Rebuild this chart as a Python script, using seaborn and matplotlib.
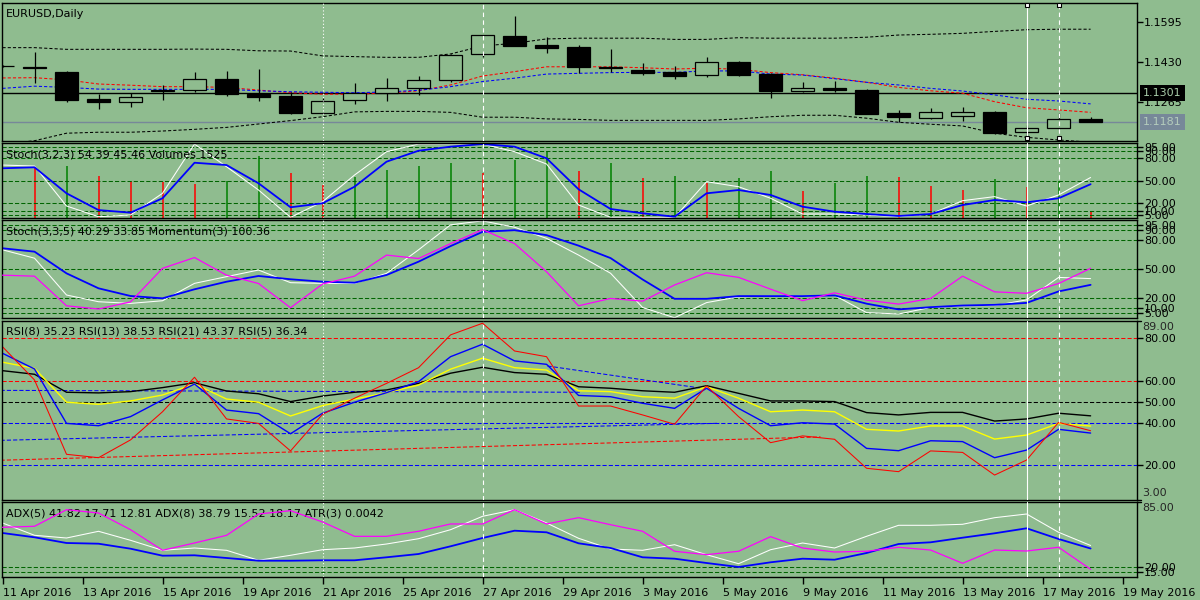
import numpy as np
import matplotlib
matplotlib.use("Agg")
import matplotlib.pyplot as plt
import matplotlib.transforms as mtrans
import seaborn as sns

# ---- values (35 daily bars) ----
date_labels = ["11 Apr 2016", "13 Apr 2016", "15 Apr 2016", "19 Apr 2016", "21 Apr 2016",
               "25 Apr 2016", "27 Apr 2016", "29 Apr 2016", "3 May 2016", "5 May 2016",
               "9 May 2016", "11 May 2016", "13 May 2016", "17 May 2016", "19 May 2016"]

opens = [1.1413, 1.1408, 1.1389, 1.1276, 1.1265, 1.1310, 1.1313, 1.1359, 1.1297, 1.1287,
         1.1217, 1.1271, 1.1300, 1.1323, 1.1353, 1.1460, 1.1536, 1.1499, 1.1491, 1.1409,
         1.1396, 1.1388, 1.1374, 1.1429, 1.1381, 1.1310, 1.1322, 1.1313, 1.1217, 1.1199,
         1.1208, 1.1223, 1.1139, 1.1155, 1.1194]
closes = [1.1414, 1.1405, 1.1273, 1.1265, 1.1283, 1.1313, 1.1357, 1.1297, 1.1286, 1.1220,
          1.1266, 1.1300, 1.1320, 1.1353, 1.1456, 1.1539, 1.1496, 1.1488, 1.1408, 1.1406,
          1.1385, 1.1372, 1.1428, 1.1376, 1.1310, 1.1322, 1.1313, 1.1216, 1.1203, 1.1221,
          1.1223, 1.1137, 1.1157, 1.1194, 1.1181]
highs = [1.1416, 1.1471, 1.1393, 1.1296, 1.1302, 1.1334, 1.1389, 1.1392, 1.1400, 1.1304,
         1.1282, 1.1342, 1.1363, 1.1371, 1.1462, 1.1540, 1.1619, 1.1531, 1.1499, 1.1481,
         1.1425, 1.1412, 1.1449, 1.1433, 1.1383, 1.1346, 1.1350, 1.1316, 1.1231, 1.1239,
         1.1243, 1.1227, 1.1168, 1.1218, 1.1202]
lows = [1.1410, 1.1343, 1.1265, 1.1234, 1.1244, 1.1273, 1.1304, 1.1289, 1.1269, 1.1216,
        1.1215, 1.1257, 1.1269, 1.1293, 1.1346, 1.1448, 1.1495, 1.1467, 1.1382, 1.1389,
        1.1376, 1.1360, 1.1368, 1.1371, 1.1282, 1.1305, 1.1305, 1.1215, 1.1180, 1.1195,
        1.1187, 1.1133, 1.1121, 1.1154, 1.1180]

bb_upper = [1.1488, 1.1488, 1.1481, 1.1481, 1.1481, 1.1481, 1.1482, 1.1481, 1.1475, 1.1474,
            1.1454, 1.1451, 1.1448, 1.1448, 1.1462, 1.1495, 1.1506, 1.1524, 1.1527, 1.1527,
            1.1527, 1.1522, 1.1522, 1.1529, 1.1527, 1.1527, 1.1527, 1.1531, 1.1540, 1.1543,
            1.1547, 1.1555, 1.1562, 1.1564, 1.1564]
bb_lower = [1.1090, 1.1104, 1.1135, 1.1139, 1.1139, 1.1144, 1.1151, 1.1159, 1.1173, 1.1187,
            1.1203, 1.1223, 1.1225, 1.1225, 1.1221, 1.1201, 1.1201, 1.1194, 1.1192, 1.1188,
            1.1188, 1.1188, 1.1188, 1.1194, 1.1203, 1.1209, 1.1209, 1.1197, 1.1180, 1.1172,
            1.1165, 1.1135, 1.1118, 1.1107, 1.1098]
ma_red = [1.1363, 1.1364, 1.1355, 1.1338, 1.1333, 1.1327, 1.1327, 1.1324, 1.1313, 1.1302,
          1.1296, 1.1296, 1.1300, 1.1310, 1.1334, 1.1371, 1.1389, 1.1409, 1.1409, 1.1409,
          1.1405, 1.1400, 1.1403, 1.1399, 1.1385, 1.1376, 1.1362, 1.1345, 1.1324, 1.1310,
          1.1300, 1.1265, 1.1240, 1.1231, 1.1221]
ma_blue = [1.1320, 1.1329, 1.1324, 1.1317, 1.1316, 1.1316, 1.1316, 1.1316, 1.1310, 1.1306,
           1.1304, 1.1302, 1.1305, 1.1312, 1.1327, 1.1348, 1.1362, 1.1379, 1.1382, 1.1385,
           1.1386, 1.1386, 1.1392, 1.1392, 1.1379, 1.1375, 1.1360, 1.1345, 1.1334, 1.1320,
           1.1309, 1.1293, 1.1275, 1.1268, 1.1256]
hline_price = 1.1301
bid_price = 1.1181
price_ticks = [1.1595, 1.1430, 1.1265]

stoch1_main = [71, 69.7, 16.4, 2.1, 4.4, 33.3, 99, 68.8, 37.7, 1.3, 22.1, 57.7, 88.8, 99, 99,
               99, 88.8, 72.4, 17.7, 1.3, 1.0, 1.0, 48.8, 42.1, 26.7, 5.7, 5.7, 4.4, 2.1, 5.7,
               23.5, 28.9, 16.4, 31.1, 54.39]
stoch1_signal = [66.7, 68, 33.3, 11, 7.5, 26.7, 74.1, 71, 46.7, 14.7, 20, 42.1, 75.5, 90.1,
                 95.5, 99, 95.5, 80, 38.7, 12.4, 6.7, 2.1, 33.3, 37.7, 31.1, 15.5, 8.8, 5.7,
                 3.1, 5.7, 17.7, 24.4, 21.3, 26.7, 45.46]
volumes = [np.nan, 11500, 11790, 9500, 8300, 8140, 7680, 8300, 14070, 10260, 7460, 9210,
           10880, 11790, 12540, 10120, 13160, 15280, 10720, 12400, 9120, 9510, 7980, 9120,
           10650, 6090, 7980, 9510, 9280, 7230, 6320, 8820, 7000, 8370, 1525]

stoch2_main = [69.9, 61.3, 23.4, 16.5, 14.8, 17.5, 35.4, 42.3, 49.1, 36.1, 35.4, 35.4, 45.7,
               69.9, 95.6, 99.7, 93.1, 81.7, 64.5, 45.8, 10.6, 0.0, 15.6, 21.5, 22.3, 22.3,
               23, 5.3, 3.9, 10.6, 12.3, 12.6, 18.4, 41.5, 40.29]
stoch2_signal = [71.5, 68, 45.7, 30.3, 22.4, 20, 29.3, 37.1, 43, 39.6, 37.1, 36.1, 44, 57.7,
                 73.7, 88.4, 90.1, 85, 74.2, 61.4, 39.4, 19.5, 19.5, 22.3, 22.3, 22.3, 23,
                 14.5, 8.6, 10.9, 12.6, 13.3, 15.3, 27.1, 33.85]
momentum = [100.08, 100.04, 98.83, 98.70, 98.99, 100.36, 100.80, 100.08, 99.74, 98.75,
            99.72, 100.04, 100.90, 100.76, 101.37, 101.94, 101.37, 100.22, 98.83, 99.13,
            99.02, 99.68, 100.18, 99.99, 99.51, 99.04, 99.36, 99.06, 98.90, 99.13, 100.04,
            99.40, 99.34, 99.74, 100.36]
stoch_levels = [95, 90, 80, 50, 20, 10, 5]

rsi8 = [72.9, 65.5, 39.8, 38.7, 43, 50.9, 58.4, 46.1, 44.4, 34.9, 44.6, 49.8, 54.3, 59.5,
        71.3, 77.2, 69.3, 67.7, 53, 52.4, 49.3, 46.9, 56.4, 46.9, 38.7, 40.1, 39.5, 28, 26.9,
        31.6, 31.2, 23.6, 27.2, 37, 35.23]
rsi13 = [68.7, 65.8, 49.8, 48.8, 50.4, 53.2, 58.4, 51.3, 49.8, 43.3, 48.2, 51.3, 54.3, 57.9,
         65.4, 70.6, 66.1, 65, 55.2, 54.8, 52.4, 51.7, 57.1, 51.7, 45.3, 46.1, 45.3, 37, 36.2,
         38.6, 38.6, 32.4, 34.3, 39.8, 38.53]
rsi21 = [64.7, 63, 54.5, 54.2, 54.8, 56.7, 59, 55.1, 53.8, 50.1, 52.7, 54.5, 55.6, 58.7, 63.5,
         66.3, 63.8, 63, 57.1, 56.4, 55.2, 54.5, 57.6, 54, 50.4, 50.4, 50.1, 44.9, 43.8, 45,
         45, 40.9, 41.9, 44.6, 43.37]
rsi5 = [76, 60.3, 25.2, 23.6, 32, 45.3, 61.6, 41.9, 39.8, 26.8, 44.1, 51.7, 58.7, 66.1, 81.6,
        87.1, 74, 71.3, 48, 48, 43.8, 39.4, 57.5, 43, 30.7, 33.9, 32.3, 18.6, 17, 26.8, 26.1,
        15.4, 22.5, 40.3, 36.34]
rsi_levels = [80, 60, 50, 40, 20]
rsi_level_colors = ["red", "red", "black", "blue", "blue"]
# hand drawn trend lines on the RSI window: (bar, value) end points
trend_blue_a = ([-0.06, 18.06], [55.4, 54.5])
trend_blue_b = ([17.03, 21.8], [66.9, 56.5])
trend_blue_c = ([-0.06, 22.4], [31.8, 39.85])
trend_red_d = ([-0.06, 25.56], [22.4, 33.4])

adx5 = [64.3, 52, 49.3, 56, 47, 37, 39.3, 37, 27, 32, 37.6, 39.3, 43.3, 48.6, 57.6, 71, 77.6,
        64.3, 49, 38.3, 37, 42.6, 32.6, 23.6, 37.6, 44.3, 39.3, 51, 62, 62, 63, 69.6, 73.3,
        55, 41.82]
adx8 = [54.3, 50, 44.3, 43.6, 38.6, 31.6, 32, 29.3, 26.6, 26.6, 27, 27, 30, 33.3, 41, 49.3,
        56.6, 55, 44, 39.3, 30, 28.6, 24.3, 20.3, 25, 28.6, 27.6, 34.3, 43.3, 45, 49.6, 54,
        59, 48.3, 38.79]
atr3 = [0.00926, 0.00938, 0.01138, 0.01098, 0.00897, 0.00649, 0.00737, 0.00829, 0.01086,
        0.01126, 0.0099, 0.00817, 0.00817, 0.00878, 0.00966, 0.00966, 0.01138, 0.00966,
        0.01042, 0.00957, 0.00878, 0.00637, 0.00596, 0.00637, 0.00813, 0.00676, 0.00628,
        0.00637, 0.00685, 0.00652, 0.00492, 0.00652, 0.0064, 0.00685, 0.0042]
adx_levels = [20, 15]

# vertical line objects (bar index, style)
vline_bars = [10, 15, 32, 33]
vline_styles = [(0, (1, 2)), (0, (4, 3)), "-", (0, (4, 3))]

bg = "#8fbc8f"
lvl_green = "#006400"
bars = np.arange(len(opens))

sns.set_theme(style="white")
plt.rcParams["font.family"] = ["DejaVu Sans"]
plt.rcParams["font.size"] = 8

fig = plt.figure(figsize=(12, 6), dpi=100, facecolor=bg)

L, R = 2, 1137


def right_ticks(ax):
    ax.yaxis.tick_right()
    ax.yaxis.set_label_position("right")
    ax.tick_params(axis="y", direction="out", length=4, width=1, pad=1,
                   labelsize=8, colors="black", left=False, right=True,
                   labelleft=False, labelright=True)


def panel(top, bot):
    ax = fig.add_axes([L / 1200, 1 - bot / 600, (R - L) / 1200, (bot - top) / 600])
    ax.set_facecolor(bg)
    for s in ax.spines.values():
        s.set_color("black")
        s.set_linewidth(1)
        s.set_visible(True)
    ax.set_xlim(-0.016, 35.45)
    right_ticks(ax)
    ax.tick_params(axis="x", bottom=False, labelbottom=False)
    ax.grid(False)
    return ax


def line(ax, y, color, lw=0.75, ls="-", x=bars):
    sns.lineplot(x=x, y=y, ax=ax, color=color, linewidth=lw, linestyle=ls,
                 legend=False, errorbar=None, sort=False)
    ax.set_xlabel("")
    ax.set_ylabel("")


def title(ax, txt):
    ax.annotate(txt, xy=(0, 1), xycoords="axes fraction", xytext=(4, -11),
                textcoords="offset pixels", ha="left", va="center", fontsize=8,
                color="black", zorder=10)


def vlines(ax):
    for b, st in zip(vline_bars, vline_styles):
        ax.axvline(b, color="white", lw=0.8, ls=st, zorder=6)


def levels(ax, lv, colors, fmt="%.2f"):
    for v, c in zip(lv, colors):
        ax.axhline(v, color=c, lw=0.75, ls=(0, (4, 2)), zorder=1)
    ax.set_yticks(lv)
    ax.set_yticklabels([fmt % v for v in lv])


def overlay(ax, lo, hi):
    tw = ax.twinx()
    tw.set_ylim(lo, hi)
    tw.axis("off")
    right_ticks(ax)  # twinx moves the host ticks to the left
    return tw


# ---- main price window ----
ax = panel(2.7, 140.7)
ax.set_ylim(1.11041, 1.16734)
ax.axhline(bid_price, color="#778899", lw=1, zorder=1)
ax.axhline(hline_price, color="black", lw=1, zorder=1)
line(ax, bb_upper, "black", 0.75, (0, (3, 2)))
line(ax, bb_lower, "black", 0.75, (0, (3, 2)))
line(ax, ma_red, "red", 0.75, (0, (3, 2)))
line(ax, ma_blue, "blue", 0.75, (0, (3, 2)))
o, c = np.array(opens), np.array(closes)
ax.vlines(bars, lows, highs, color="black", lw=0.9, zorder=3)
up = c >= o
ax.bar(bars[up], (c - o)[up], bottom=o[up], width=0.72, facecolor=bg,
       edgecolor="black", linewidth=0.9, zorder=4)
ax.bar(bars[~up], (o - c)[~up], bottom=c[~up], width=0.72, facecolor="black",
       edgecolor="black", linewidth=0.9, zorder=4)
ax.set_yticks(price_ticks)
ax.set_yticklabels(["%.4f" % p for p in price_ticks])
vlines(ax)
tr = mtrans.blended_transform_factory(ax.transData, ax.transAxes)
for yy in (0.981, 0.017):
    ax.plot(vline_bars[2:], [yy, yy], "s", transform=tr, ms=3.5, mfc="white",
            mec="black", mew=0.8, clip_on=False, zorder=7)
trp = mtrans.blended_transform_factory(ax.transAxes, ax.transData)
ax.annotate("%.4f" % hline_price, xy=(1, hline_price), xycoords=trp, xytext=(6, 0),
            textcoords="offset pixels", ha="left", va="center", fontsize=8,
            color="#a8cca8", annotation_clip=False, zorder=10,
            bbox=dict(boxstyle="square,pad=0.3", fc="black", ec="none"))
ax.annotate("%.4f" % bid_price, xy=(1, bid_price), xycoords=trp, xytext=(6, 0),
            textcoords="offset pixels", ha="left", va="center", fontsize=8,
            color="#b4ccbc", annotation_clip=False, zorder=10,
            bbox=dict(boxstyle="square,pad=0.3", fc="#778899", ec="none"))
title(ax, "EURUSD,Daily")

# ---- Stoch(3,2,3) + Volumes ----
ax1 = panel(143, 217.7)
ax1.set_ylim(0.8, 100.4)
vol_ax = overlay(ax1, 0, 17030)
vol = np.array(volumes, dtype=float)
prev = np.concatenate([[np.nan], vol[:-1]])
vcol = np.where(vol >= prev, "#008000", "#ff0000")
ok = ~np.isnan(vol)
vol_ax.vlines(bars[ok], 0, vol[ok], colors=vcol[ok], lw=1.1)
ax1.set_zorder(vol_ax.get_zorder() + 1)
ax1.patch.set_visible(False)
levels(ax1, stoch_levels, [lvl_green] * len(stoch_levels))
line(ax1, stoch1_main, "white", 0.75)
line(ax1, stoch1_signal, "blue", 1.3)
vlines(ax1)
title(ax1, "Stoch(3,2,3) 54.39 45.46 Volumes 1525")

# ---- Stoch(3,3,5) + Momentum(3) ----
ax2 = panel(220.3, 318.3)
ax2.set_ylim(-0.55, 100.27)
levels(ax2, stoch_levels, [lvl_green] * len(stoch_levels))
line(ax2, stoch2_main, "white", 0.75)
line(ax2, stoch2_signal, "blue", 1.3)
vlines(ax2)
mom_ax = overlay(ax2, 98.32, 102.32)
line(mom_ax, momentum, "#ff00ff", 0.9)
title(ax2, "Stoch(3,3,5) 40.29 33.85 Momentum(3) 100.36")

# ---- RSI ----
ax3 = panel(320.7, 500)
ax3.set_ylim(3.62, 88.3)
levels(ax3, rsi_levels, rsi_level_colors)
for (tx, ty), col in zip([trend_blue_a, trend_blue_b, trend_blue_c, trend_red_d],
                         ["blue", "blue", "blue", "red"]):
    ax3.plot(tx, ty, color=col, lw=0.75, ls=(0, (4, 2)), zorder=1)
line(ax3, rsi21, "black", 1.0)
line(ax3, rsi13, "yellow", 1.0)
line(ax3, rsi8, "blue", 1.0)
line(ax3, rsi5, "red", 0.75)
vlines(ax3)
tr3 = ax3.transAxes
ax3.plot([1, 1.0035], [1, 1], color="black", lw=1, transform=tr3, clip_on=False)
ax3.plot([1, 1.0035], [0, 0], color="black", lw=1, transform=tr3, clip_on=False)
ax3.text(1.0045, 0.995, "89.00", transform=tr3, ha="left", va="top", fontsize=8)
ax3.text(1.0045, 0.01, "3.00", transform=tr3, ha="left", va="bottom", fontsize=8)
title(ax3, "RSI(8) 35.23 RSI(13) 38.53 RSI(21) 43.37 RSI(5) 36.34")

# ---- ADX + ATR ----
ax4 = panel(502.3, 577)
ax4.set_ylim(10.3, 85)
levels(ax4, adx_levels, [lvl_green] * len(adx_levels))
line(ax4, adx5, "white", 0.75)
line(ax4, adx8, "blue", 1.3)
vlines(ax4)
atr_ax = overlay(ax4, 0.00327, 0.01227)
line(atr_ax, atr3, "#ff00ff", 0.9)
tr4 = ax4.transAxes
ax4.plot([1, 1.0035], [1, 1], color="black", lw=1, transform=tr4, clip_on=False)
ax4.text(1.0045, 0.99, "85.00", transform=tr4, ha="left", va="top", fontsize=8)
title(ax4, "ADX(5) 41.82 17.71 12.81 ADX(8) 38.79 15.52 18.17 ATR(3) 0.0042")

ax4.set_xticks([2.5 * k for k in range(len(date_labels))])
ax4.set_xticklabels(date_labels)
ax4.tick_params(axis="x", bottom=True, labelbottom=True, direction="out", length=5,
                width=1, pad=3, labelsize=8, colors="black")
for lab in ax4.get_xticklabels():
    lab.set_horizontalalignment("left")

fig.savefig("out.png", dpi=100, facecolor=bg)
